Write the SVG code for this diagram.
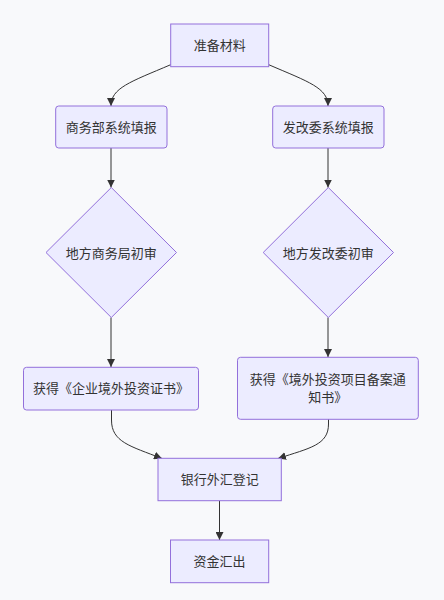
<svg xmlns="http://www.w3.org/2000/svg" width="444" height="600" viewBox="0 0 444 600">
<defs>
<style>
.n{fill:#ECECFF;stroke:#9370DB;stroke-width:1}
.t{font-family:"Liberation Sans","Noto Sans CJK SC",sans-serif;font-size:13px;fill:#333;text-anchor:middle;dominant-baseline:central}
.e{fill:none;stroke:#333;stroke-width:1}
</style>
<marker id="arr" viewBox="0 0 10 10" refX="10" refY="5" markerWidth="8" markerHeight="8" markerUnits="userSpaceOnUse" orient="auto">
<path d="M0,0 L10,5 L0,10 z" fill="#333"/>
</marker>
</defs>
<rect x="0" y="0" width="444" height="600" fill="#F8F9FB"/>
<g id="edges">
<path class="e" marker-end="url(#arr)" d="M170.7,64.7 C130,82 111,88 111,106"/>
<path class="e" marker-end="url(#arr)" d="M268.7,64.7 C309,82 328,88 328,106"/>
<path class="e" marker-end="url(#arr)" d="M111,148 L111,187.5"/>
<path class="e" marker-end="url(#arr)" d="M328,148 L328,187.5"/>
<path class="e" marker-end="url(#arr)" d="M111,317.5 L111,367"/>
<path class="e" marker-end="url(#arr)" d="M328,317.5 L328,357"/>
<path class="e" marker-end="url(#arr)" d="M111.5,410 L111.5,420 C111.5,442 130,446 162,458.5"/>
<path class="e" marker-end="url(#arr)" d="M328.5,419 L328.5,424 C328.5,445 310,448 278,458.5"/>
<path class="e" marker-end="url(#arr)" d="M219.5,500.7 L219.5,540"/>
</g>
<g id="n1"><rect class="n" x="170.7" y="24" width="98" height="42.7"/><text class="t" x="219.7" y="45.3">准备材料</text></g>
<g id="n2"><rect class="n" x="55.7" y="106" width="111.3" height="42" rx="3" ry="3"/><text class="t" x="111.3" y="127">商务部系统填报</text></g>
<g id="n3"><rect class="n" x="272.7" y="106" width="111.3" height="42" rx="3" ry="3"/><text class="t" x="328.3" y="127">发改委系统填报</text></g>
<g id="n4"><polygon class="n" points="111.3,187.5 176.5,252.5 111.3,317.5 46,252.5"/><text class="t" x="111.3" y="253">地方商务局初审</text></g>
<g id="n5"><polygon class="n" points="328.3,187.5 393.5,252.5 328.3,317.5 263.2,252.5"/><text class="t" x="328.3" y="253">地方发改委初审</text></g>
<g id="n6"><rect class="n" x="23.5" y="367.3" width="175" height="42.7" rx="3" ry="3"/><text class="t" x="111" y="388.7">获得《企业境外投资证书》</text></g>
<g id="n7"><rect class="n" x="237.5" y="357.3" width="180.8" height="62" rx="3" ry="3"/><text class="t" x="327.8" y="379">获得《境外投资项目备案通</text><text class="t" x="327.8" y="397.5">知书》</text></g>
<g id="n8"><rect class="n" x="158" y="458.3" width="123.3" height="42.4"/><text class="t" x="219.7" y="479.5">银行外汇登记</text></g>
<g id="n9"><rect class="n" x="170.5" y="540" width="98.2" height="42.7"/><text class="t" x="219.6" y="561.3">资金汇出</text></g>
</svg>
